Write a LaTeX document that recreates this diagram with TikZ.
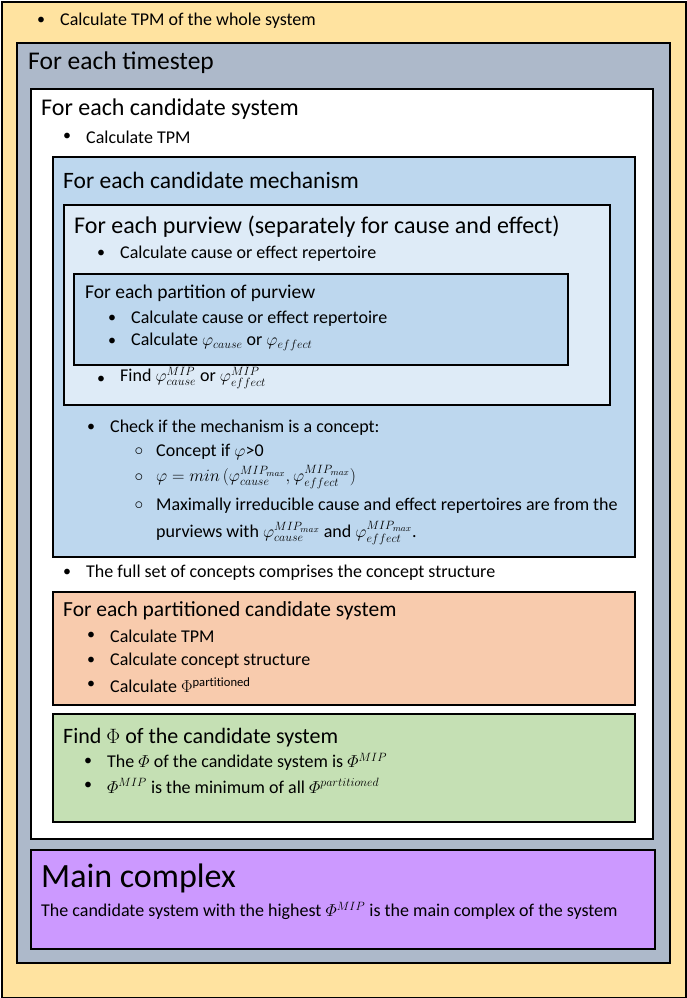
\documentclass[tikz,border=0pt]{standalone}
\usepackage{amsmath}
\usepackage{fontspec}
\setmainfont{Carlito}
\begin{document}
\begin{tikzpicture}[x=1pt,y=-1pt,
  box/.style={draw=black,line width=2pt},
  t/.style={anchor=west,inner sep=0pt,font=\fontsize{18}{20}\selectfont},
  h/.style={anchor=west,inner sep=0pt,font=\fontsize{24}{26}\selectfont},
  b/.style={anchor=center,inner sep=0pt,font=\fontsize{16}{18}\selectfont}]
\definecolor{cy}{HTML}{FFE3A0}\definecolor{cg}{HTML}{ADB9CA}
\definecolor{cb}{HTML}{BDD7EE}\definecolor{cl}{HTML}{DEEBF7}
\definecolor{co}{HTML}{F8CBAD}\definecolor{cgr}{HTML}{C5E0B4}
\definecolor{cp}{HTML}{CC99FF}
\useasboundingbox (0,0) rectangle (686,998);
\node[box,fill=cy,minimum width=684,minimum height=996,anchor=north west,inner sep=0] (ry) at (1,1) {};
\node[box,fill=cg,minimum width=653,minimum height=920,anchor=north west,inner sep=0] (rg) at (16,42) {};
\node[box,fill=white,minimum width=622,minimum height=750,anchor=north west,inner sep=0] (rw) at (30,88) {};
\node[box,fill=cb,minimum width=582,minimum height=400,anchor=north west,inner sep=0] (rb) at (52,156) {};
\node[box,fill=cl,minimum width=546,minimum height=200,anchor=north west,inner sep=0] (rl) at (63,204) {};
\node[box,fill=cb,minimum width=494,minimum height=91,anchor=north west,inner sep=0] (rp) at (73,273) {};
\node[box,fill=co,minimum width=582,minimum height=113,anchor=north west,inner sep=0] (ro) at (52,591) {};
\node[box,fill=cgr,minimum width=582,minimum height=108,anchor=north west,inner sep=0] (rgr) at (52,713) {};
\node[box,fill=cp,minimum width=624,minimum height=99,anchor=north west,inner sep=0] (rpu) at (30,849) {};

\node[b] (b1) at (41,21) {•}; \node[t] (t1) at (60,21) {Calculate TPM of the whole system};
\node[h,font=\fontsize{25.5}{28}\selectfont] (h1) at (28,63) {For each timestep};
\node[h] (h2) at (41,109) {For each candidate system};
\node[b] (b2) at (67,137) {•}; \node[t] (t2) at (86,137) {Calculate TPM};
\node[h,font=\fontsize{23.5}{26}\selectfont] (h3) at (63,180) {For each candidate mechanism};
\node[h] (h4) at (74,227) {For each purview (separately for cause and effect)};
\node[t,font=\fontsize{19.5}{22}\selectfont] (h5) at (85,293) {For each partition of purview};
\node[b] (b3) at (101,254) {•}; \node[t] (t3) at (120,254) {Calculate cause or effect repertoire};
\node[b] (b4) at (112,319) {•}; \node[t] (t4) at (131,319) {Calculate cause or effect repertoire};
\node[b] (b5) at (112,342) {•}; \node[t] (t5) at (131,342) {Calculate $\varphi_{cause}$ or $\varphi_{effect}$};
\node[b] (b6) at (101,380) {•}; \node[t] (t6) at (120,378) {Find $\varphi_{cause}^{MIP}$ or $\varphi_{effect}^{MIP}$};
\node[b] (b7) at (91,428) {•}; \node[t] (t7) at (110,428) {Check if the mechanism is a concept:};
\node[b] (c1) at (139,452) {$\circ$}; \node[t] (u1) at (156,452) {Concept if $\varphi$>0};
\node[b] (c2) at (139,478) {$\circ$}; \node[t] (u2) at (156,477) {$\varphi = min\,(\varphi_{cause}^{MIP_{max}},\varphi_{effect}^{MIP_{max}})$};
\node[b] (c3) at (139,506) {$\circ$}; \node[t] (u3) at (156,506) {Maximally irreducible cause and effect repertoires are from the};
\node[t] (u4) at (156,533) {purviews with $\varphi_{cause}^{MIP_{max}}$ and $\varphi_{effect}^{MIP_{max}}$.};
\node[b] (b8) at (67,573) {•}; \node[t] (t8) at (86,573) {The full set of concepts comprises the concept structure};
\node[h,font=\fontsize{21.5}{24}\selectfont] (h6) at (63,611) {For each partitioned candidate system};
\node[b] (b9) at (91,636) {•}; \node[t] (t9) at (110,636) {Calculate TPM};
\node[b] (b10) at (91,661) {•}; \node[t] (t10) at (110,661) {Calculate concept structure};
\node[b] (b11) at (91,685) {•}; \node[t] (t11) at (110,685) {Calculate $\Phi^{\mathrm{partitioned}}$};
\node[h,font=\fontsize{22}{24}\selectfont] (h7) at (63,738) {Find $\Phi$ of the candidate system};
\node[b] (b12) at (88,762) {•}; \node[t] (t12) at (107,762) {The $\varPhi$ of the candidate system is $\varPhi^{MIP}$};
\node[b] (b13) at (88,786) {•}; \node[t] (t13) at (107,786) {$\varPhi^{MIP}$ is the minimum of all $\varPhi^{partitioned}$};
\node[h,font=\fontsize{34}{36}\selectfont] (h8) at (41,878) {Main complex};
\node[t] (t14) at (41,911) {The candidate system with the highest $\varPhi^{MIP}$ is the main complex of the system};
\end{tikzpicture}
\end{document}
